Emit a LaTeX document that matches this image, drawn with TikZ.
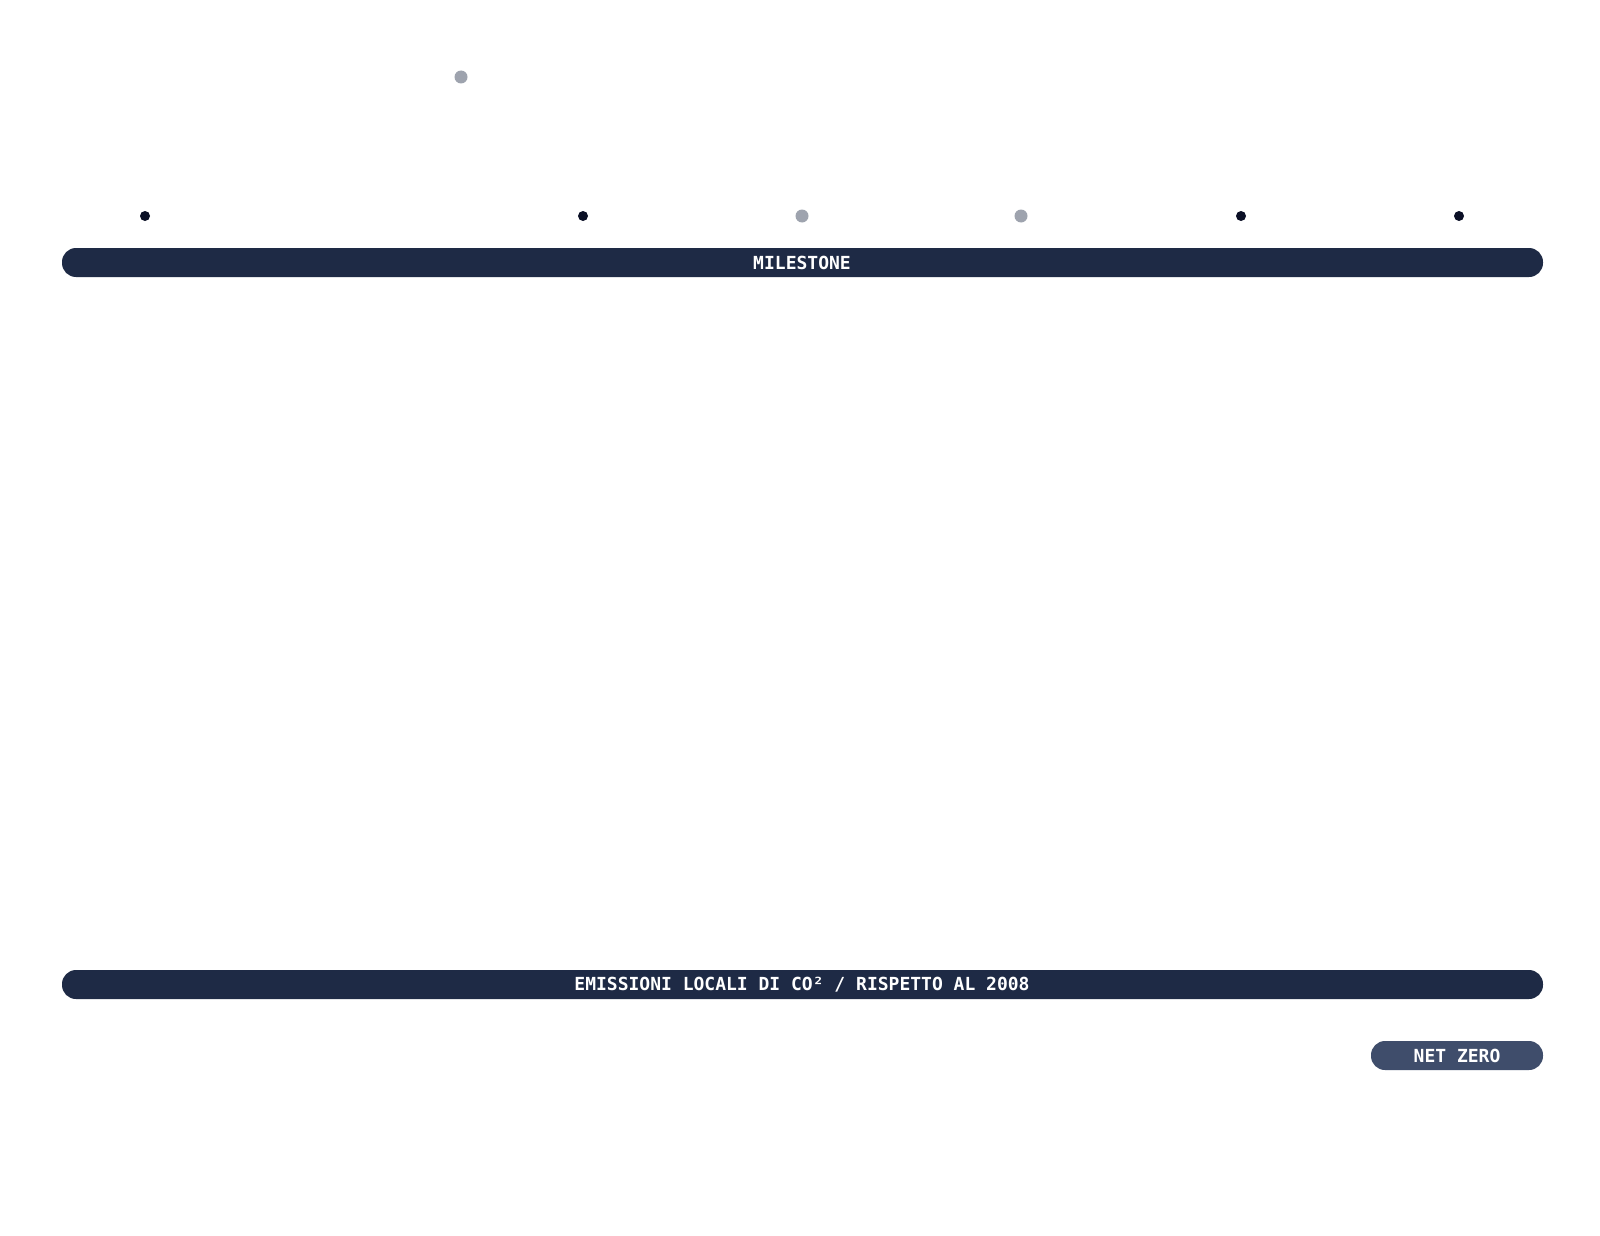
\documentclass[tikz,border=0pt]{standalone}
\usepackage{fontspec}
\setmonofont{DejaVu Sans Mono}
\begin{document}
\begin{tikzpicture}[x=1pt,y=-1pt,
  bar/.style={fill=barc,rounded corners=14pt},
  lbl/.style={text=white,font=\ttfamily\bfseries\fontsize{18}{20}\selectfont},
  dk/.style={circle,fill=dotd,inner sep=0pt,minimum size=10pt},
  gr/.style={circle,fill=dotg,inner sep=0pt,minimum size=13pt}]
\definecolor{barc}{HTML}{1E2A45}
\definecolor{pillc}{HTML}{3F4D6B}
\definecolor{dotd}{HTML}{0B1026}
\definecolor{dotg}{HTML}{9EA3AE}
\useasboundingbox[fill=white] (0,0) rectangle (1600,1236);
\fill[bar] (62,248) rectangle (1543,277);
\node[lbl] (m) at (802,263) {MILESTONE};
\fill[bar] (62,970) rectangle (1543,999);
\node[lbl] (e) at (802,985) {EMISSIONI LOCALI DI CO² / RISPETTO AL 2008};
\fill[fill=pillc,rounded corners=14pt] (1371,1041) rectangle (1543,1070);
\node[lbl] (n) at (1457,1056) {NET ZERO};
\node[dk] (d1) at (145,216) {};
\node[dk] (d2) at (583,216) {};
\node[dk] (d3) at (1241,216) {};
\node[dk] (d4) at (1459,216) {};
\node[gr] (g1) at (461,77) {};
\node[gr] (g2) at (802,216) {};
\node[gr] (g3) at (1021,216) {};
\end{tikzpicture}
\end{document}
